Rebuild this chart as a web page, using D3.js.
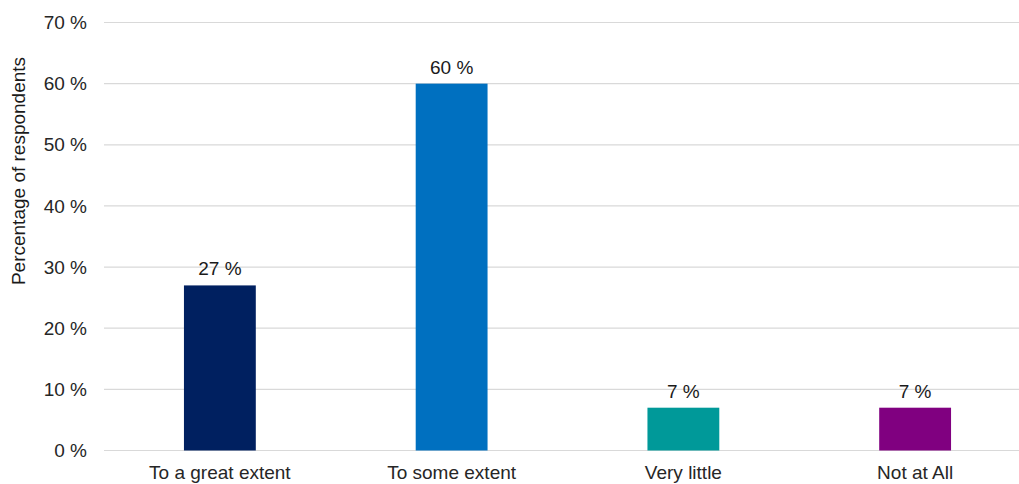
<!DOCTYPE html>
<html>
<head>
<meta charset="utf-8">
<script src="https://cdn.jsdelivr.net/npm/d3@7"></script>
<style>
  html, body { margin: 0; padding: 0; background: #fff; }
  svg { display: block; font-family: "Liberation Sans", Arial, sans-serif; }
</style>
</head>
<body>
<svg id="chart" width="1019" height="484"></svg>
<script>
// Survey responses: share of respondents per answer
const categories = ["To a great extent", "To some extent", "Very little", "Not at All"];
const values = [27, 60, 7, 7];
const barColors = ["#002060", "#0070C0", "#009999", "#800080"];
const yTicks = [0, 10, 20, 30, 40, 50, 60, 70];
const yTitle = "Percentage of respondents";

const svg = d3.select("#chart");
const plot = { left: 104, right: 1031, top: 22.5, bottom: 450.5 };
const fontSize = 19;

const x = d3.scaleBand()
  .domain(categories)
  .range([plot.left, plot.right])
  .paddingInner(0.69)
  .paddingOuter(0.345);

const y = d3.scaleLinear().domain([0, 70]).range([plot.bottom, plot.top]);

// Horizontal gridlines
svg.append("g")
  .selectAll("line")
  .data(yTicks)
  .join("line")
  .attr("x1", plot.left)
  .attr("x2", plot.right)
  .attr("y1", d => y(d))
  .attr("y2", d => y(d))
  .attr("stroke", "#d9d9d9")
  .attr("stroke-width", 1.2);

// Y axis labels
const yAxis = svg.append("g")
  .attr("transform", `translate(${plot.left},0)`)
  .call(d3.axisLeft(y).tickValues(yTicks).tickSize(0).tickPadding(17).tickFormat(d => d + " %"));
yAxis.select(".domain").remove();
yAxis.selectAll("text")
  .attr("font-size", fontSize)
  .attr("fill", "#262626")
  .attr("font-family", "Liberation Sans, Arial, sans-serif");

// Bars
svg.append("g")
  .selectAll("rect")
  .data(values)
  .join("rect")
  .attr("x", (d, i) => x(categories[i]))
  .attr("width", x.bandwidth())
  .attr("y", d => y(d))
  .attr("height", d => y(0) - y(d))
  .attr("fill", (d, i) => barColors[i]);

// Value labels above bars
svg.append("g")
  .selectAll("text")
  .data(values)
  .join("text")
  .attr("x", (d, i) => x(categories[i]) + x.bandwidth() / 2)
  .attr("y", d => y(d) - 10)
  .attr("text-anchor", "middle")
  .attr("font-size", fontSize)
  .attr("fill", "#1a1a1a")
  .text(d => d + " %");

// X axis category labels
const xAxis = svg.append("g")
  .attr("transform", `translate(0,${plot.bottom})`)
  .call(d3.axisBottom(x).tickSize(0).tickPadding(15));
xAxis.select(".domain").remove();
xAxis.selectAll("text")
  .attr("font-size", fontSize)
  .attr("fill", "#262626")
  .attr("font-family", "Liberation Sans, Arial, sans-serif");

// Y axis title
svg.append("text")
  .attr("transform", "translate(25,171) rotate(-90)")
  .attr("text-anchor", "middle")
  .attr("font-size", fontSize)
  .attr("fill", "#1a1a1a")
  .text(yTitle);
</script>
</body>
</html>
